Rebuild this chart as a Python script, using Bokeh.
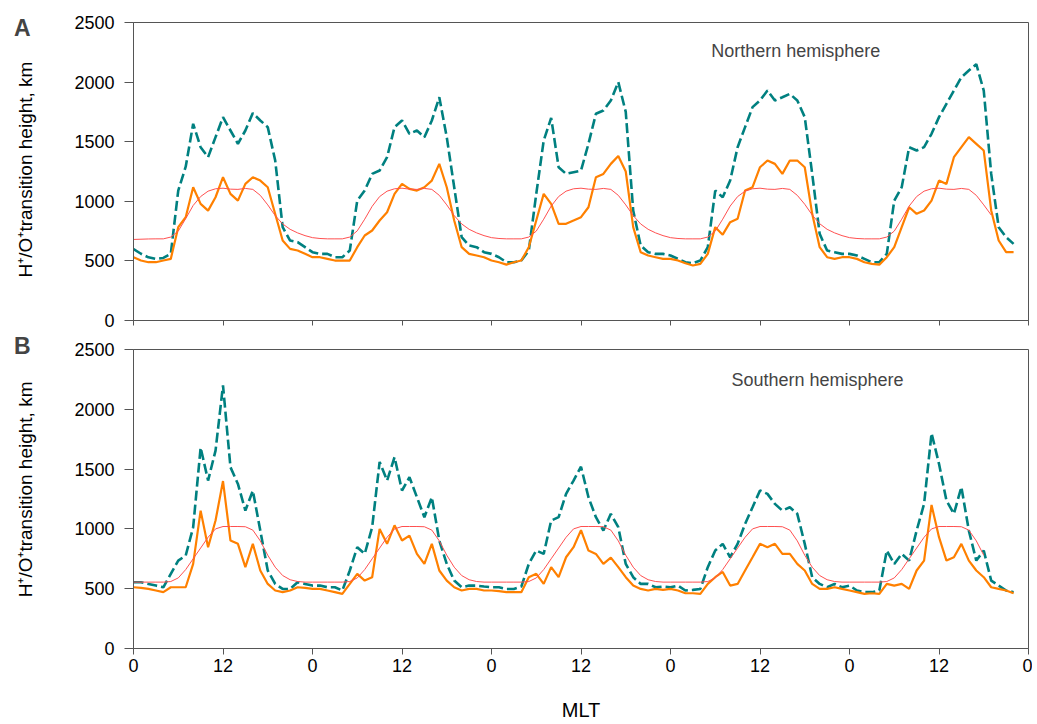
import numpy as np
from bokeh.plotting import figure
from bokeh.layouts import column
from bokeh.models import Range1d, FixedTicker, Label
from bokeh.embed import file_html
from bokeh.resources import INLINE

# ---------------- data ----------------
mlt_ticks = [0, 12, 24, 36, 48, 60, 72, 84, 96, 108, 120]
mlt_tick_labels = ["0", "12", "0", "12", "0", "12", "0", "12", "0", "12", "0"]
y_ticks = [0, 500, 1000, 1500, 2000, 2500]

hours_obs = list(range(119))          # continuous hours of the 5-day run
hours_model_n = list(range(116))
hours_model_s = list(range(115))

north_obs_dashed = [
    600, 560, 530, 517, 525, 560, 1090, 1290, 1650, 1454, 1370, 1538, 1706, 1594, 1482, 1594, 1740, 1678, 1622, 1342,
    783, 671, 657, 615, 573, 559, 559, 531, 531, 587, 1006, 1090, 1230, 1258, 1370, 1622, 1678, 1566, 1594, 1538,
    1678, 1873, 1538, 1118, 699, 629, 615, 573, 559, 531, 489, 489, 503, 587, 1062, 1510, 1700, 1286, 1230, 1244,
    1258, 1482, 1734, 1762, 1845, 2000, 1750, 922, 629, 573, 559, 559, 545, 517, 489, 480, 503, 615, 1090, 1034,
    1174, 1454, 1622, 1790, 1846, 1929, 1846, 1873, 1901, 1846, 1706, 1230, 727, 587, 573, 559, 559, 545, 517, 489,
    489, 559, 1006, 1118, 1454, 1426, 1454, 1566, 1706, 1818, 1929, 2041, 2097, 2150, 1929, 1230, 783, 699, 643]

north_obs_solid = [
    531, 503, 489, 489, 503, 517, 783, 867, 1118, 978, 922, 1034, 1202, 1062, 1006, 1146, 1202, 1174, 1118, 894,
    671, 601, 587, 559, 531, 531, 517, 503, 503, 503, 615, 713, 755, 839, 908, 1062, 1146, 1104, 1090, 1118,
    1174, 1314, 1118, 839, 615, 559, 545, 531, 503, 489, 469, 489, 503, 615, 839, 1062, 978, 811, 811, 839,
    867, 950, 1202, 1230, 1314, 1380, 1250, 783, 573, 545, 531, 517, 517, 503, 480, 461, 475, 559, 783, 720,
    825, 853, 1090, 1118, 1286, 1342, 1314, 1230, 1342, 1342, 1286, 895, 615, 531, 517, 531, 531, 517, 489, 475,
    469, 531, 615, 783, 950, 895, 923, 1006, 1174, 1146, 1370, 1454, 1538, 1482, 1426, 923, 671, 573, 573]

north_model = [
    680, 682, 684, 685, 685, 700, 750, 855, 965, 1040, 1085, 1105, 1110, 1102, 1100, 1108, 1100, 1050, 970, 880,
    810, 765, 735, 712, 695, 688, 685, 685, 685, 700, 752, 850, 958, 1040, 1085, 1105, 1110, 1102, 1100, 1108,
    1100, 1050, 970, 880, 810, 765, 735, 712, 695, 688, 685, 685, 685, 700, 750, 850, 960, 1040, 1085, 1105,
    1110, 1102, 1100, 1108, 1100, 1050, 970, 880, 810, 765, 735, 712, 695, 688, 685, 685, 685, 700, 750, 850,
    960, 1040, 1085, 1105, 1110, 1102, 1100, 1108, 1100, 1050, 975, 885, 812, 765, 735, 712, 695, 688, 685, 685,
    685, 700, 750, 850, 960, 1040, 1085, 1105, 1110, 1102, 1100, 1108, 1100, 1050, 970, 885]

south_obs_dashed = [
    554, 554, 540, 526, 512, 624, 735, 777, 1014, 1680, 1404, 1655, 2200, 1516, 1376, 1153, 1320, 986, 652, 540,
    498, 498, 554, 540, 526, 526, 512, 512, 485, 652, 847, 791, 1014, 1560, 1404, 1600, 1321, 1432, 1265, 1098,
    1265, 903, 707, 568, 512, 526, 526, 518, 512, 512, 498, 498, 518, 707, 819, 791, 1070, 1098, 1293, 1404,
    1520, 1265, 1098, 986, 1126, 1014, 707, 596, 540, 540, 512, 518, 512, 526, 485, 490, 498, 680, 819, 875,
    763, 875, 1042, 1181, 1321, 1293, 1209, 1153, 1181, 1126, 875, 596, 540, 512, 540, 512, 526, 485, 471, 471,
    485, 819, 707, 791, 735, 986, 1209, 1800, 1544, 1237, 1126, 1350, 986, 735, 819, 568, 526, 485, 471]

south_obs_solid = [
    512, 507, 498, 485, 471, 512, 512, 512, 707, 1153, 847, 1070, 1400, 903, 875, 680, 875, 652, 540, 485,
    471, 485, 512, 507, 498, 498, 485, 471, 457, 540, 624, 568, 596, 1000, 875, 1030, 903, 944, 791, 707,
    875, 652, 568, 512, 485, 498, 498, 485, 485, 479, 471, 471, 471, 596, 624, 540, 680, 596, 763, 847,
    990, 819, 791, 707, 760, 680, 596, 526, 498, 485, 498, 490, 498, 485, 462, 462, 457, 540, 596, 640,
    526, 540, 652, 763, 875, 847, 875, 791, 791, 707, 652, 540, 498, 498, 512, 498, 485, 471, 457, 462,
    457, 540, 526, 540, 498, 652, 735, 1200, 931, 735, 763, 875, 735, 652, 596, 512, 498, 485, 462]

south_model = [
    555, 555, 555, 555, 555, 560, 590, 660, 750, 840, 930, 1000, 1020, 1020, 1020, 1018, 990, 900, 780, 680,
    610, 575, 560, 555, 555, 555, 555, 555, 555, 560, 590, 660, 750, 840, 930, 1000, 1020, 1020, 1020, 1018,
    990, 900, 780, 680, 610, 575, 560, 555, 555, 555, 555, 555, 555, 560, 590, 660, 750, 840, 930, 1000,
    1020, 1020, 1020, 1018, 990, 900, 780, 680, 610, 575, 560, 555, 555, 555, 555, 555, 555, 560, 590, 660,
    750, 840, 930, 1000, 1020, 1020, 1020, 1018, 990, 900, 780, 680, 610, 575, 560, 555, 555, 555, 555, 555,
    555, 560, 590, 660, 750, 840, 930, 1000, 1020, 1020, 1020, 1018, 990, 900, 780]

panel_letters = ["A", "B"]
panel_titles = ["Northern hemisphere", "Southern hemisphere"]
y_title = "H\u207a/O\u207atransition height, km"
x_title = "MLT"

# ---------------- style ----------------
TEAL = "#008080"
ORANGE = "#FF8000"
RED = "#FF5050"
AXIS = "#555555"
FONT = "Liberation Sans"


def make_panel(obs_d, obs_s, model_h, model, letter, title, bottom):
    top_b = 18 if bottom else 22
    bot_b = 76 if bottom else 11
    frame_h = 299 if bottom else 298
    p = figure(width=1032, height=top_b + frame_h + bot_b,
               x_range=Range1d(0, 120), y_range=Range1d(0, 2500),
               output_backend="svg", toolbar_location=None,
               min_border_left=133, min_border_right=4,
               min_border_top=top_b, min_border_bottom=bot_b)
    p.grid.visible = False
    p.outline_line_color = AXIS
    p.outline_line_width = 1
    p.background_fill_color = "white"
    p.border_fill_color = "white"

    p.line(hours_obs, obs_d, line_color=TEAL, line_width=2.6, line_dash="10 4")
    p.line(hours_obs, obs_s, line_color=ORANGE, line_width=2.2)
    p.line(model_h, model, line_color=RED, line_width=1)

    xa = p.xaxis[0]
    xa.ticker = FixedTicker(ticks=mlt_ticks)
    xa.minor_tick_line_color = None
    xa.major_tick_in = 0
    xa.axis_line_color = AXIS
    xa.major_tick_line_color = AXIS
    if bottom:
        xa.major_tick_out = 6
        xa.major_label_overrides = {t: l for t, l in zip(mlt_ticks, mlt_tick_labels)}
        xa.major_label_text_font = FONT
        xa.major_label_text_font_size = "18px"
        xa.major_label_text_color = "black"
        xa.major_label_standoff = 4
        xa.axis_label = x_title
        xa.axis_label_text_font = FONT
        xa.axis_label_text_font_size = "20px"
        xa.axis_label_text_font_style = "normal"
        xa.axis_label_text_color = "black"
        xa.axis_label_standoff = 24
    else:
        xa.major_tick_out = 5
        xa.major_label_overrides = {t: "" for t in mlt_ticks}
        xa.major_label_text_font_size = "1px"
        xa.major_label_standoff = 0

    ya = p.yaxis[0]
    ya.ticker = FixedTicker(ticks=y_ticks)
    ya.minor_tick_line_color = None
    ya.major_tick_in = 0
    ya.major_tick_out = 9
    ya.major_label_standoff = 10
    ya.axis_line_color = AXIS
    ya.major_tick_line_color = AXIS
    ya.major_label_text_font = FONT
    ya.major_label_text_font_size = "18px"
    ya.major_label_text_color = "black"

    # texts outside the frame go into the left side panel so they are not clipped
    letter_y = 2533 if bottom else 2458
    p.add_layout(Label(x=-14.9, y=letter_y, text=letter, text_font=FONT, text_font_size="23px",
                       text_font_style="bold", text_align="center", text_baseline="middle"), "left")
    title_y = 1330 if bottom else 1267
    p.add_layout(Label(x=-14.5, y=title_y, text=y_title, angle=90, angle_units="deg",
                       text_font=FONT, text_font_size="19px", text_color="black",
                       text_align="center", text_baseline="middle"), "left")
    if bottom:
        p.add_layout(Label(x=91.7, y=2249, text=title, text_font=FONT, text_font_size="18px",
                           text_align="center", text_baseline="middle"))
    else:
        p.add_layout(Label(x=88.8, y=2265, text=title, text_font=FONT, text_font_size="18px",
                           text_align="center", text_baseline="middle"))
    return p


pa = make_panel(north_obs_dashed, north_obs_solid, hours_model_n, north_model,
                panel_letters[0], panel_titles[0], False)
pb = make_panel(south_obs_dashed, south_obs_solid, hours_model_s, south_model,
                panel_letters[1], panel_titles[1], True)

layout = column(pa, pb, spacing=0)
open("out.html", "w").write(file_html(layout, INLINE))
